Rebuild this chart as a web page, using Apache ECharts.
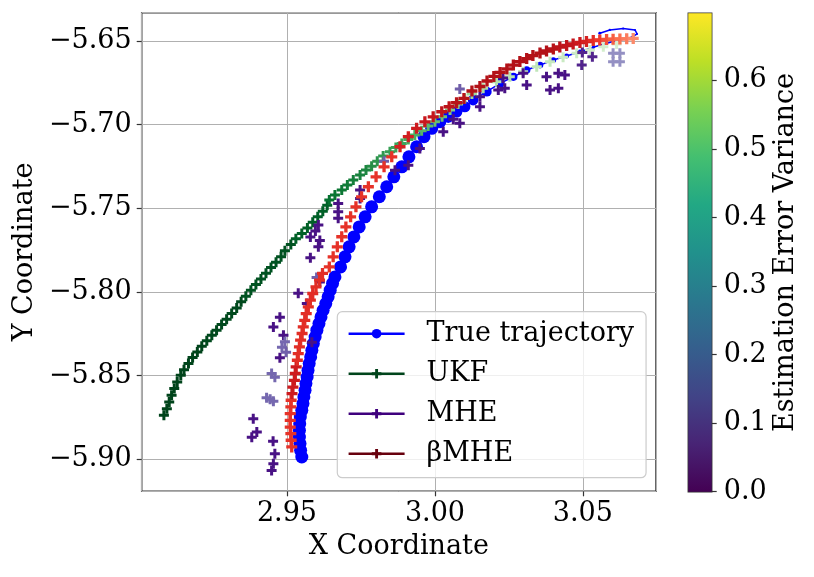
<!DOCTYPE html>
<html>
<head>
<meta charset="utf-8">
<script src="https://cdn.jsdelivr.net/npm/echarts@6/dist/echarts.min.js"></script>
<style>
  html, body { margin: 0; padding: 0; background: #fff; }
  #chart { width: 814px; height: 577px; }
</style>
</head>
<body>
<div id="chart"></div>
<script>
/* ── Data ───────────────────────────────────────────────── */
const trueTraj = [
  [2.9550,-5.8986],[2.9546,-5.8946],[2.9544,-5.8906],[2.9542,-5.8867],[2.9542,-5.8827],
  [2.9543,-5.8787],[2.9545,-5.8747],[2.9550,-5.8707],[2.9554,-5.8667],[2.9557,-5.8627],
  [2.9561,-5.8587],[2.9564,-5.8547],[2.9568,-5.8508],[2.9571,-5.8468],[2.9575,-5.8428],
  [2.9580,-5.8388],[2.9584,-5.8348],[2.9589,-5.8308],[2.9595,-5.8269],[2.9601,-5.8228],
  [2.9608,-5.8189],[2.9615,-5.8149],[2.9622,-5.8109],[2.9631,-5.8069],[2.9639,-5.8029],
  [2.9646,-5.7989],[2.9654,-5.7949],[2.9662,-5.7910],
  [2.9681,-5.7850],[2.9696,-5.7790],[2.9710,-5.7730],[2.9726,-5.7671],[2.9744,-5.7611],
  [2.9764,-5.7551],[2.9786,-5.7491],[2.9812,-5.7431],[2.9837,-5.7371],[2.9861,-5.7312],
  [2.9888,-5.7252],[2.9912,-5.7192],[2.9938,-5.7132],[2.9963,-5.7072],[2.9989,-5.7022],
  [3.0017,-5.6983],[3.0045,-5.6953],[3.0073,-5.6923],[3.0101,-5.6893],
  [3.0129,-5.6853],[3.0175,-5.6803],[3.0220,-5.6753],[3.0265,-5.6714],[3.0310,-5.6673],
  [3.0355,-5.6644],[3.0400,-5.6614],[3.0445,-5.6590],[3.0490,-5.6564],[3.0535,-5.6538],
  [3.0580,-5.6514],[3.0625,-5.6494],[3.0665,-5.6478],[3.0683,-5.6458],[3.0676,-5.6434],
  [3.0636,-5.6426],[3.0591,-5.6434],[3.0557,-5.6454]
];

const ukfPts = [
  [2.9084,-5.8737],[2.9094,-5.8697],[2.9102,-5.8657],[2.9110,-5.8617],[2.9119,-5.8577],
  [2.9129,-5.8538],[2.9141,-5.8498],[2.9152,-5.8464],[2.9167,-5.8428],[2.9181,-5.8392],
  [2.9197,-5.8358],[2.9212,-5.8324],[2.9229,-5.8292],[2.9246,-5.8258],[2.9262,-5.8228],
  [2.9279,-5.8194],[2.9296,-5.8163],[2.9313,-5.8129],[2.9330,-5.8095],[2.9345,-5.8059],
  [2.9361,-5.8025],[2.9378,-5.7989],[2.9395,-5.7955],[2.9412,-5.7922],[2.9429,-5.7888],
  [2.9446,-5.7853],[2.9463,-5.7822],[2.9480,-5.7790],[2.9493,-5.7754],[2.9513,-5.7716],
  [2.9530,-5.7682],[2.9550,-5.7650],[2.9569,-5.7617],[2.9587,-5.7583],[2.9604,-5.7551],
  [2.9621,-5.7517],[2.9636,-5.7481],[2.9643,-5.7451],[2.9662,-5.7421],[2.9685,-5.7391],
  [2.9704,-5.7361],[2.9724,-5.7331],[2.9747,-5.7301],[2.9767,-5.7271],[2.9786,-5.7248],
  [2.9805,-5.7218],[2.9825,-5.7188],[2.9848,-5.7162],[2.9868,-5.7136],[2.9888,-5.7112],
  [2.9910,-5.7088],[2.9932,-5.7062],[2.9955,-5.7036],[2.9977,-5.7008],[3.0000,-5.6983],
  [3.0024,-5.6953],[3.0051,-5.6913],[3.0078,-5.6877],[3.0101,-5.6844],[3.0125,-5.6817],
  [3.0163,-5.6783],[3.0208,-5.6743],[3.0253,-5.6714],[3.0298,-5.6684],[3.0344,-5.6654],
  [3.0389,-5.6624],[3.0433,-5.6597],[3.0479,-5.6574],[3.0524,-5.6554],[3.0569,-5.6534],
  [3.0614,-5.6518]
];
const ukfVar = [
  0.70,0.70,0.70,0.70,0.70,0.70,0.70,0.70,0.70,0.70,0.70,0.70,
  0.69,0.69,0.69,0.69,0.69,0.69,0.69,0.69,
  0.67,0.67,0.67,0.67,0.67,0.67,0.67,0.67,0.67,0.67,
  0.64,0.64,0.64,0.64,0.64,0.64,0.64,
  0.60,0.59,0.58,0.57,0.56,0.55,0.54,
  0.52,0.50,0.49,0.47,0.46,0.45,
  0.43,0.42,0.40,0.39,0.37,0.36,
  0.32,0.30,0.28,0.26,0.24,0.22,
  0.21,0.20,0.19,0.18,0.17,0.16,0.15,0.14,0.13
];

const mhePts = [
  [2.9448,-5.9066],[2.9454,-5.9026],[2.9459,-5.8966],[2.9453,-5.8892],[2.9381,-5.8868],
  [2.9398,-5.8837],[2.9386,-5.8757],[2.9431,-5.8632],[2.9443,-5.8641],[2.9454,-5.8653],
  [2.9448,-5.8487],[2.9459,-5.8510],[2.9483,-5.8330],[2.9497,-5.8360],[2.9476,-5.8393],
  [2.9488,-5.8258],[2.9493,-5.8298],[2.9454,-5.8209],[2.9476,-5.8151],[2.9584,-5.8300],
  [2.9538,-5.8007],[2.9567,-5.8069],[2.9600,-5.7914],[2.9611,-5.7941],[2.9579,-5.7795],
  [2.9606,-5.7730],[2.9611,-5.7692],[2.9579,-5.7672],[2.9596,-5.7636],[2.9606,-5.7600],
  [2.9673,-5.7471],[2.9673,-5.7521],[2.9673,-5.7560],[2.9747,-5.7391],[2.9747,-5.7441],
  [2.9828,-5.7218],[2.9865,-5.7272],[2.9910,-5.7242],[2.9949,-5.7142],[3.0028,-5.7042],
  [3.0062,-5.6967],[3.0084,-5.6992],[3.0084,-5.6787],[3.0152,-5.6833],[3.0152,-5.6893],
  [3.0214,-5.6793],[3.0236,-5.6783],[3.0230,-5.6721],[3.0298,-5.6693],[3.0310,-5.6763],
  [3.0377,-5.6714],[3.0417,-5.6693],[3.0439,-5.6703],[3.0389,-5.6793],[3.0417,-5.6783],
  [3.0498,-5.6569],[3.0532,-5.6594],[3.0496,-5.6644],[3.0602,-5.6574],[3.0625,-5.6574],
  [3.0602,-5.6624],[3.0625,-5.6624]
];
const mheVar = [
  0.66,0.66,0.66,0.66,0.66,0.66,0.66,
  0.48,0.48,0.48,0.48,0.48,0.48,0.50,
  0.66,0.66,0.48,0.66,0.66,0.66,0.66,0.66,0.50,
  0.66,0.66,0.66,0.66,0.66,0.66,0.66,0.66,0.66,0.66,0.66,0.66,
  0.50,
  0.66,0.66,0.66,0.66,0.66,0.66,
  0.50,
  0.66,0.66,0.66,0.66,0.66,0.66,0.66,0.66,0.66,0.66,0.66,0.66,
  0.62,0.62,0.62,
  0.38,0.38,0.38,0.38
];

const bmhePts = [
  [2.9516,-5.8926],[2.9514,-5.8886],[2.9513,-5.8846],[2.9511,-5.8807],[2.9511,-5.8767],
  [2.9511,-5.8727],[2.9513,-5.8687],[2.9514,-5.8647],[2.9517,-5.8607],[2.9520,-5.8568],
  [2.9525,-5.8528],[2.9528,-5.8487],[2.9531,-5.8448],[2.9535,-5.8408],[2.9538,-5.8368],
  [2.9542,-5.8328],[2.9546,-5.8288],[2.9551,-5.8248],[2.9555,-5.8209],[2.9560,-5.8169],
  [2.9565,-5.8129],[2.9572,-5.8089],[2.9579,-5.8049],[2.9587,-5.8009],[2.9598,-5.7970],
  [2.9610,-5.7929],[2.9620,-5.7889],
  [2.9643,-5.7850],[2.9656,-5.7790],[2.9670,-5.7730],[2.9685,-5.7670],[2.9699,-5.7611],
  [2.9715,-5.7551],[2.9733,-5.7491],[2.9752,-5.7431],[2.9775,-5.7371],[2.9801,-5.7312],
  [2.9828,-5.7252],[2.9854,-5.7192],[2.9882,-5.7132],[2.9910,-5.7072],[2.9938,-5.7022],
  [2.9966,-5.6983],[2.9994,-5.6953],[3.0023,-5.6923],[3.0048,-5.6893],[3.0073,-5.6869],
  [3.0098,-5.6843],
  [3.0125,-5.6799],[3.0152,-5.6772],[3.0176,-5.6739],[3.0199,-5.6712],[3.0220,-5.6688],
  [3.0243,-5.6667],[3.0265,-5.6644],[3.0287,-5.6623],[3.0310,-5.6605],[3.0331,-5.6587],
  [3.0355,-5.6572],[3.0377,-5.6560],[3.0400,-5.6548],[3.0422,-5.6536],[3.0445,-5.6527],
  [3.0467,-5.6518],[3.0490,-5.6509],[3.0512,-5.6503],[3.0535,-5.6497],[3.0557,-5.6494],
  [3.0580,-5.6491],[3.0602,-5.6489],[3.0625,-5.6488],[3.0648,-5.6487],[3.0670,-5.6485]
];
const bmheVar = [
  0.46,0.46,0.46,0.46,0.46,0.46,0.46,0.46,
  0.52,0.52,0.52,0.52,0.52,
  0.47,0.47,0.47,0.47,0.47,0.47,0.47,0.47,0.47,0.47,0.47,0.47,0.47,0.47,
  0.46,0.46,0.46,0.46,0.46,0.46,0.46,0.46,0.46,0.46,0.46,0.46,
  0.50,0.51,0.52,0.53,0.54,0.55,0.56,0.57,0.57,
  0.58,0.58,0.58,0.58,0.58,0.58,0.58,0.58,0.58,0.58,0.58,0.58,
  0.57,0.56,0.55,0.54,0.52,0.50,0.47,
  0.44,0.40,0.37,0.34,0.31,0.28
];

const legendNames = ['True trajectory', 'UKF', 'MHE', 'βMHE'];
const cbTicks = [0, 0.1, 0.2, 0.3, 0.4, 0.5, 0.6];
const cbMax = 0.698;

/* ── Styling helpers ────────────────────────────────────── */
const FONT = 'DejaVu Serif';
const PLUS = 'path://M3.5,0H6.5V3.5H10V6.5H6.5V10H3.5V6.5H0V3.5H3.5Z';
const greens  = ['#f7fcf5','#e5f5e0','#c7e9c0','#a1d99b','#74c476','#41ab5d','#238b45','#006d2c','#00441b'];
const purples = ['#fcfbfd','#efedf5','#dadaeb','#bcbddc','#9e9ac8','#807dba','#6a51a3','#54278f','#3f007d'];
const reds    = ['#fff5f0','#fee0d2','#fcbba1','#fc9272','#fb6a4a','#ef3b2c','#cb181d','#a50f15','#67000d'];
const viridis = ['#440154','#482475','#414487','#355f8d','#2a788e','#21918c','#22a884','#44bf70','#7ad151','#bddf26','#fde725'];

const withVar = (pts, v) => pts.map((p, i) => [p[0], p[1], v[i]]);

const chart = echarts.init(document.getElementById('chart'), null, { renderer: 'canvas' });

const FS = 27;
const axisText = { color: '#000', fontFamily: FONT, fontSize: FS };
const nameText = { color: '#000', fontFamily: FONT, fontSize: FS };
const tickStyle = { show: true, length: 5, lineStyle: { color: '#333', width: 1.2 } };

chart.setOption({
  backgroundColor: '#fff',
  animation: false,
  grid: [
    { left: 141.7, top: 12.7, width: 514.3, height: 478.6, show: true, borderColor: '#333', borderWidth: 1.5, backgroundColor: 'transparent' },
    { left: 688.3, top: 13.3, width: 23.4, height: 478.4, show: true, borderColor: '#333', borderWidth: 1.5 }
  ],
  xAxis: [
    {
      type: 'value', gridIndex: 0, min: 2.9009, max: 3.0747, splitNumber: 3,
      name: 'X Coordinate', nameLocation: 'middle', nameGap: 42, nameTextStyle: nameText,
      axisLine: { show: false },
      axisTick: tickStyle,
      axisLabel: Object.assign({ margin: 9, showMinLabel: false, showMaxLabel: false, formatter: v => v.toFixed(2) }, axisText),
      splitLine: { show: true, lineStyle: { color: '#b0b0b0', width: 1 } }
    },
    { type: 'category', gridIndex: 1, data: ['cb'], show: false }
  ],
  yAxis: [
    {
      type: 'value', gridIndex: 0, min: -5.9191, max: -5.6331, splitNumber: 5,
      name: 'Y Coordinate', nameLocation: 'middle', nameGap: 94, nameTextStyle: nameText,
      axisLine: { show: false },
      axisTick: tickStyle,
      axisLabel: Object.assign({ margin: 10, showMinLabel: false, showMaxLabel: false,
        formatter: v => (v < 0 ? '\u2212' : '') + Math.abs(v).toFixed(2) }, axisText),
      splitLine: { show: true, lineStyle: { color: '#b0b0b0', width: 1 } }
    },
    {
      type: 'value', gridIndex: 1, position: 'right', min: cbTicks[0], max: cbMax, interval: 0.1,
      name: 'Estimation Error Variance', nameLocation: 'middle', nameGap: 61, nameTextStyle: nameText,
      axisLine: { show: false },
      axisTick: tickStyle,
      axisLabel: Object.assign({ margin: 12, showMaxLabel: false, formatter: v => v.toFixed(1) }, axisText),
      splitLine: { show: false }
    }
  ],
  legend: {
    data: legendNames,
    orient: 'vertical',
    left: 337.3, top: 311.7,
    padding: [8, 12, 10, 10],
    itemWidth: 56, itemHeight: 12, itemGap: 12,
    backgroundColor: 'rgba(255,255,255,0.8)',
    borderColor: '#cccccc', borderWidth: 1.2, borderRadius: 5,
    lineStyle: { width: 2.6 },
    textStyle: { color: '#000', fontFamily: FONT, fontSize: FS, lineHeight: 28, padding: [0, 0, 0, 17] }
  },
  visualMap: [
    { type: 'continuous', show: false, seriesIndex: 4, dimension: 2, min: 0, max: 0.7, inRange: { color: greens } },
    { type: 'continuous', show: false, seriesIndex: 5, dimension: 2, min: 0, max: 0.7, inRange: { color: purples } },
    { type: 'continuous', show: false, seriesIndex: 6, dimension: 2, min: 0, max: 0.7, inRange: { color: reds } }
  ],
  series: [
    {
      name: legendNames[0], type: 'line', data: trueTraj,
      showAllSymbol: true, symbol: 'circle',
      // markers taper off along the last stretch of the path
      symbolSize: v => Math.max(2, Math.min(13, 13 - (v[0] - 3.0) * 180)),
      color: '#0000ff',
      itemStyle: { color: '#0000ff', borderWidth: 0 },
      lineStyle: { color: '#0000ff', width: 1.5 },
      z: 2
    },
    // legend proxies (line + marker icons)
    { name: legendNames[1], type: 'line', data: [], symbol: PLUS, color: '#00441b', lineStyle: { width: 2.6 } },
    { name: legendNames[2], type: 'line', data: [], symbol: PLUS, color: '#3f007d', lineStyle: { width: 2.6 } },
    { name: legendNames[3], type: 'line', data: [], symbol: PLUS, color: '#67000d', lineStyle: { width: 2.6 } },
    {
      name: legendNames[1], type: 'scatter', data: withVar(ukfPts, ukfVar),
      symbol: PLUS, symbolSize: 10, itemStyle: { opacity: 1 }, z: 3
    },
    {
      name: legendNames[2], type: 'scatter', data: withVar(mhePts, mheVar),
      symbol: PLUS, symbolSize: 10, itemStyle: { opacity: 1 }, z: 4
    },
    {
      name: legendNames[3], type: 'scatter', data: withVar(bmhePts, bmheVar),
      symbol: PLUS, symbolSize: 11, itemStyle: { opacity: 1 }, z: 5
    },
    {
      type: 'bar', xAxisIndex: 1, yAxisIndex: 1, data: [cbMax], barWidth: '100%', silent: true,
      itemStyle: {
        color: new echarts.graphic.LinearGradient(0, 1, 0, 0,
          viridis.map((c, i) => ({ offset: i / (viridis.length - 1), color: c })))
      }
    }
  ]
});
</script>
</body>
</html>
